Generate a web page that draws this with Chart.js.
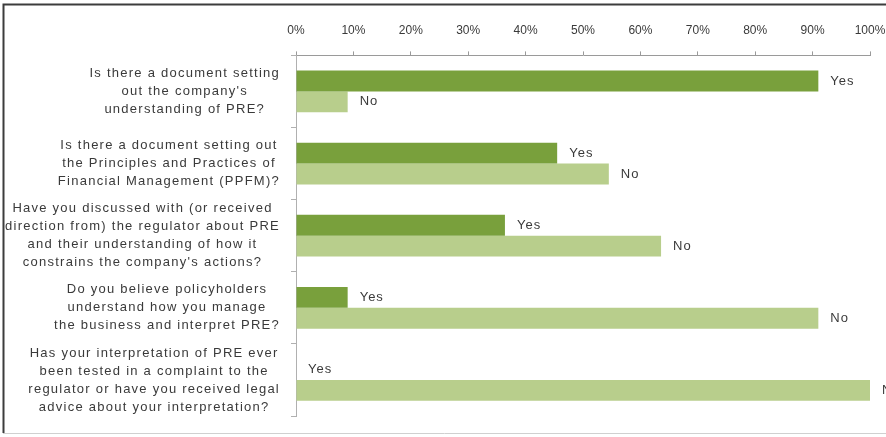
<!DOCTYPE html>
<html>
<head>
<meta charset="utf-8">
<script src="https://cdn.jsdelivr.net/npm/chart.js@4"></script>
<style>
  html, body { margin: 0; padding: 0; background: #fff; }
  canvas { display: block; }
</style>
</head>
<body>
<canvas id="pre-chart" width="886" height="437"></canvas>
<script>
// survey questions, one line per array entry
const questions = [
    ["Is there a document setting", "out the company's", "understanding of PRE?"],
    ["Is there a document setting out", "the Principles and Practices of", "Financial Management (PPFM)?"],
    ["Have you discussed with (or received", "direction from) the regulator about PRE", "and their understanding of how it", "constrains the company's actions?"],
    ["Do you believe policyholders", "understand how you manage", "the business and interpret PRE?"],
    ["Has your interpretation of PRE ever", "been tested in a complaint to the", "regulator or have you received legal", "advice about your interpretation?"]
];
const yesValues = [91, 45.5, 36.4, 9, 0];
const noValues = [9, 54.5, 63.6, 91, 100];
const seriesNames = ["Yes", "No"];

const textColor = '#3a3a3a';
const labelFont = '13px "Liberation Sans", Arial, sans-serif';

// white background plus the frame around the figure
const frame = {
    id: 'frame',
    beforeDraw(chart) {
        const ctx = chart.ctx;
        ctx.save();
        ctx.fillStyle = '#fff';
        ctx.fillRect(0, 0, chart.width, chart.height);
        ctx.strokeStyle = '#3c3c3c';
        ctx.lineWidth = 2;
        ctx.beginPath();
        ctx.moveTo(3.5, chart.height - 4);
        ctx.lineTo(3.5, 4.5);
        ctx.lineTo(chart.width, 4.5);
        ctx.stroke();
        ctx.strokeStyle = '#d0d0d0';
        ctx.lineWidth = 1;
        ctx.beginPath();
        ctx.moveTo(3, 433.5);
        ctx.lineTo(chart.width, 433.5);
        ctx.stroke();
        ctx.restore();
    }
};

// "Yes" / "No" written just past the end of each bar
const barNames = {
    id: 'barNames',
    afterDatasetsDraw(chart) {
        const ctx = chart.ctx;
        ctx.save();
        ctx.font = labelFont;
        ctx.letterSpacing = '1px';
        ctx.fillStyle = textColor;
        ctx.textAlign = 'left';
        ctx.textBaseline = 'middle';
        chart.data.datasets.forEach((ds, i) => {
            chart.getDatasetMeta(i).data.forEach(bar => {
                ctx.fillText(ds.label, bar.x + 12, bar.y);
            });
        });
        ctx.restore();
    }
};

// question text: each block centred on itself, right edge next to the axis
const questionLabels = {
    id: 'questionLabels',
    afterDraw(chart) {
        const ctx = chart.ctx;
        const y = chart.scales.y;
        const right = y.left - 11;
        const lineH = 18;
        ctx.save();
        ctx.font = labelFont;
        ctx.letterSpacing = '1.25px';
        ctx.fillStyle = textColor;
        ctx.textAlign = 'center';
        ctx.textBaseline = 'middle';
        questions.forEach((lines, i) => {
            const w = Math.max(...lines.map(l => ctx.measureText(l).width));
            const cx = right - w / 2;
            const cy = y.getPixelForValue(i);
            lines.forEach((line, k) => {
                ctx.fillText(line, cx, cy + (k - (lines.length - 1) / 2) * lineH);
            });
        });
        ctx.restore();
    }
};

const ctx = document.getElementById('pre-chart').getContext('2d');
new Chart(ctx, {
    type: 'bar',
    data: {
        labels: questions,
        datasets: [
            {
                label: seriesNames[0],
                data: yesValues,
                backgroundColor: '#79a03c'
            },
            {
                label: seriesNames[1],
                data: noValues,
                backgroundColor: '#b8ce8c'
            }
        ]
    },
    options: {
        indexAxis: 'y',
        responsive: false,
        animation: false,
        devicePixelRatio: 1,
        layout: {
            padding: { left: 291, right: 16, top: 9, bottom: 21 }
        },
        barPercentage: 1,
        categoryPercentage: 0.58,
        scales: {
            x: {
                position: 'top',
                min: 0,
                max: 100,
                // let the "100%" label run into the right margin
                afterFit: scale => { scale.paddingRight = 0; },
                ticks: {
                    stepSize: 10,
                    padding: 14,
                    color: textColor,
                    font: { family: '"Liberation Sans", Arial, sans-serif', size: 12 },
                    callback: v => v + '%'
                },
                grid: {
                    drawOnChartArea: false,
                    tickLength: 4,
                    color: '#9a9a9a'
                },
                border: { color: '#9a9a9a' }
            },
            y: {
                ticks: { display: false },
                grid: {
                    drawOnChartArea: false,
                    tickLength: 5,
                    color: '#b0b0b0'
                },
                border: { color: '#b0b0b0' }
            }
        },
        plugins: {
            legend: { display: false },
            tooltip: { enabled: false }
        }
    },
    plugins: [frame, barNames, questionLabels]
});
</script>
</body>
</html>
